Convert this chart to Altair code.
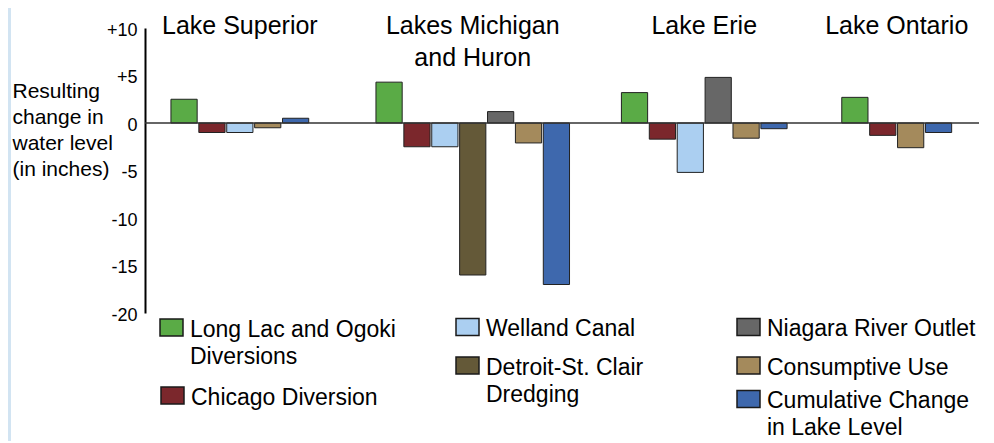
import altair as alt
import pandas as pd

FONT = "Liberation Sans"

# ---------------- data ----------------
lakes = ["Lake Superior", "Lakes Michigan and Huron", "Lake Erie", "Lake Ontario"]
lake_labels = ["Lake Superior", "Lakes Michigan\nand Huron", "Lake Erie", "Lake Ontario"]
series = [
    "Long Lac and Ogoki Diversions",
    "Chicago Diversion",
    "Welland Canal",
    "Detroit-St. Clair Dredging",
    "Niagara River Outlet",
    "Consumptive Use",
    "Cumulative Change in Lake Level",
]
legend_labels = [
    "Long Lac and Ogoki\nDiversions",
    "Chicago Diversion",
    "Welland Canal",
    "Detroit-St. Clair\nDredging",
    "Niagara River Outlet",
    "Consumptive Use",
    "Cumulative Change\nin Lake Level",
]
colors = ["#5aab46", "#7b272c", "#abcff1", "#645938", "#676767", "#a48a5c", "#3e68ad"]

# change in water level (inches); None = not applicable for that lake
superior = [2.5, -1.0, -1.0, None, None, -0.5, 0.5]
michigan_huron = [4.3, -2.5, -2.5, -16.0, 1.2, -2.1, -17.0]
erie = [3.2, -1.7, -5.2, None, 4.8, -1.6, -0.6]
ontario = [2.7, -1.3, None, None, None, -2.6, -1.0]
y_ticks = [10, 5, 0, -5, -10, -15, -20]

# ---------------- layout (style only) ----------------
GROUP_GAP_BEFORE = [0.9, 2.35, 1.8, 1.9]   # empty slots before each lake group
X_MAX = 29.9
PLOT_W, PLOT_H = 834, 285
# legend item placement in pixels relative to plot origin: (column x, row center y)
LEGEND_POS = [(15, 299.5), (16, 367.5), (311, 299), (311, 337.5),
              (592, 299), (592, 337.5), (592, 371)]

rows = []
centers = []
pos = 0.0
for li, vals in enumerate([superior, michigan_huron, erie, ontario]):
    pos += GROUP_GAP_BEFORE[li]
    start = pos
    for s, v in zip(series, vals):
        if v is None:
            continue
        rows.append({"lake": lakes[li], "series": s, "value": v,
                     "x0": pos + 0.03, "x1": pos + 0.97})
        pos += 1
    centers.append((start + pos) / 2)

df = pd.DataFrame(rows)
tdf = pd.DataFrame({"title": lake_labels, "cx": centers})
ldf = pd.DataFrame({
    "series": series,
    "label": legend_labels,
    "sx0": [p[0] for p in LEGEND_POS],
    "sx1": [p[0] + 23 for p in LEGEND_POS],
    "sy0": [p[1] - 8.5 for p in LEGEND_POS],
    "sy1": [p[1] + 8.5 for p in LEGEND_POS],
    "tx": [p[0] + 30 for p in LEGEND_POS],
    "ty": [p[1] - 9 for p in LEGEND_POS],
})

color_scale = alt.Scale(domain=series, range=colors)
x_scale = alt.Scale(domain=[0, X_MAX], nice=False, zero=False)
y_scale = alt.Scale(domain=[-20, 10], nice=False)

stripe = alt.Chart(pd.DataFrame({"k": [0]})).mark_rect(color="#d2e4f2").encode(
    x=alt.value(-137), x2=alt.value(-134), y=alt.value(-20), y2=alt.value(425)
)

bars = alt.Chart(df).mark_bar(stroke="#222222", strokeWidth=1).encode(
    x=alt.X("x0:Q", scale=x_scale, axis=None),
    x2="x1:Q",
    y=alt.Y(
        "value:Q",
        scale=y_scale,
        axis=alt.Axis(
            values=y_ticks,
            title=["Resulting", "change in", "water level", "(in inches)"],
            titleAngle=0,
            titleAlign="left",
            titleBaseline="top",
            titleX=-133,
            titleY=52,
            titleFont=FONT,
            titleFontSize=21,
            titleFontWeight="normal",
            titleLineHeight=26,
            titleColor="black",
            labelFont=FONT,
            labelFontSize=18,
            labelColor="black",
            labelPadding=8,
            labelOffset=2,
            labelExpr="datum.value > 0 ? '+' + datum.value : '' + datum.value",
            ticks=False,
            grid=False,
            domainColor="black",
            domainWidth=2,
        ),
    ),
    y2=alt.datum(0),
    color=alt.Color("series:N", scale=color_scale, legend=None),
)

zero = alt.Chart(pd.DataFrame({"zero": [0]})).mark_rule(color="#333333", strokeWidth=1.6).encode(
    y=alt.Y("zero:Q", scale=y_scale)
)

titles = alt.Chart(tdf).mark_text(
    font=FONT, fontSize=25, baseline="top", align="center", lineBreak="\n",
    lineHeight=32, color="black"
).encode(
    x=alt.X("cx:Q", scale=x_scale),
    y=alt.value(-14),
    text="title:N",
)

swatches = alt.Chart(ldf).mark_rect(stroke="#1a1a1a", strokeWidth=1.5).encode(
    x=alt.X("sx0:Q", scale=None, axis=None),
    x2="sx1:Q",
    y=alt.Y("sy0:Q", scale=None, axis=None),
    y2="sy1:Q",
    color=alt.Color("series:N", scale=color_scale, legend=None),
)

legend_text = alt.Chart(ldf).mark_text(
    font=FONT, fontSize=23, baseline="top", align="left", lineBreak="\n",
    lineHeight=27, color="black"
).encode(
    x=alt.X("tx:Q", scale=None, axis=None),
    y=alt.Y("ty:Q", scale=None, axis=None),
    text="label:N",
)

chart = alt.layer(stripe, bars, zero, titles, swatches, legend_text).properties(
    width=PLOT_W,
    height=PLOT_H,
    padding={"left": 137, "top": 20, "right": 7, "bottom": 128},
    autosize=alt.AutoSizeParams(type="none"),
).configure_view(stroke=None)

chart.save("out.html", embed_options={"renderer": "svg", "actions": False})
